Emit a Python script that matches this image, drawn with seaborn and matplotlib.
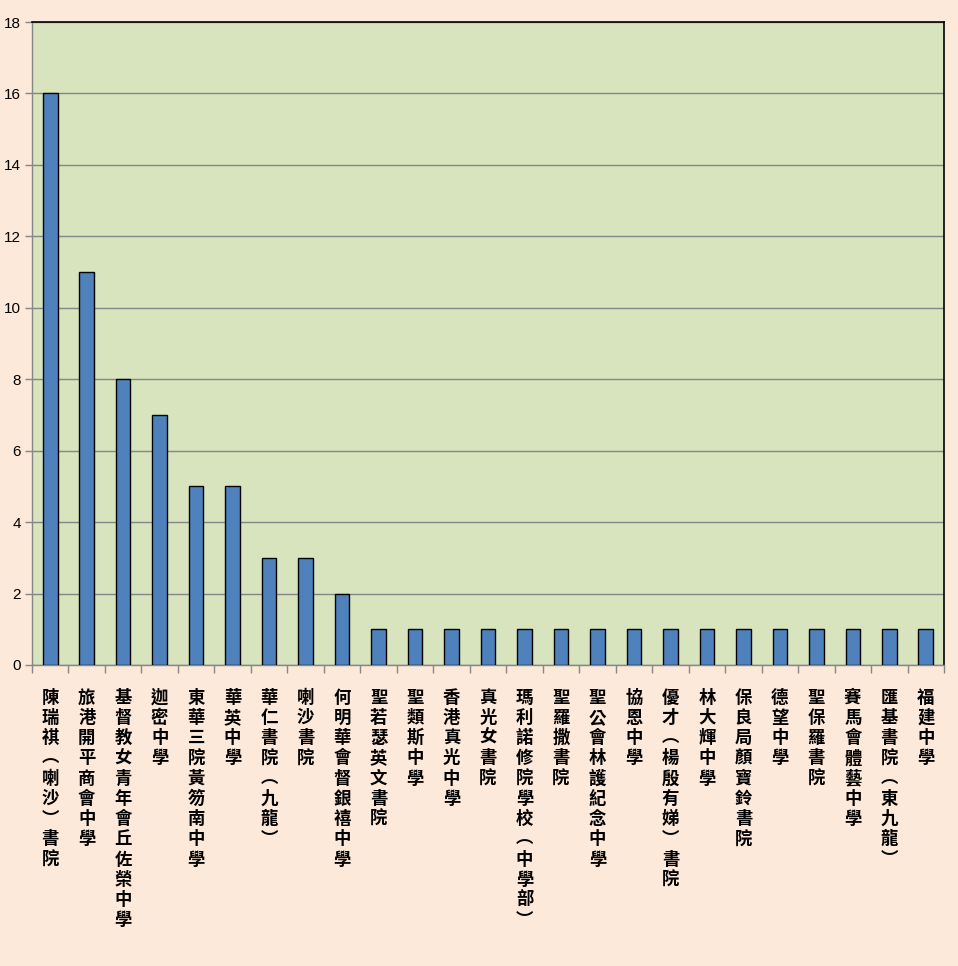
import matplotlib
matplotlib.use("Agg")
import matplotlib.pyplot as plt
import seaborn as sns
import pandas as pd
from matplotlib.ticker import FixedLocator

schools = [
    "陳瑞祺（喇沙）書院", "旅港開平商會中學", "基督教女青年會丘佐榮中學", "迦密中學",
    "東華三院黃笏南中學", "華英中學", "華仁書院（九龍）", "喇沙書院",
    "何明華會督銀禧中學", "聖若瑟英文書院", "聖類斯中學", "香港真光中學",
    "真光女書院", "瑪利諾修院學校(中學部)", "聖羅撒書院", "聖公會林護紀念中學",
    "協恩中學", "優才(楊殷有娣)書院", "林大輝中學", "保良局顏寶鈴書院",
    "德望中學", "聖保羅書院", "賽馬會體藝中學", "匯基書院(東九龍)", "福建中學",
]
counts = [16, 11, 8, 7, 5, 5, 3, 3, 2, 1, 1, 1, 1, 1, 1, 1, 1, 1, 1, 1, 1, 1, 1, 1, 1]
y_ticks = [0, 2, 4, 6, 8, 10, 12, 14, 16, 18]

sns.set_theme(style="white")
plt.rcParams['font.family'] = ['Noto Sans CJK TC', 'DejaVu Sans']

df = pd.DataFrame({"school": schools, "count": counts})

fig = plt.figure(figsize=(9.58, 9.66), dpi=100, facecolor="#FDE9D9")
ax = fig.add_axes([32/958, 1-665/966, (944-32)/958, (665-22)/966])
ax.set_facecolor("#D7E4BD")

sns.barplot(data=df, x="school", y="count", color="#4F81BD", edgecolor="black",
            linewidth=1.0, width=0.4, saturation=1, ax=ax, zorder=3)

ax.set_ylim(0, 18)
ax.set_xlim(-0.5, len(schools) - 0.5)
ax.yaxis.set_major_locator(FixedLocator(y_ticks))
ax.grid(axis="y", color="#868686", linewidth=1.0, zorder=0)
ax.set_axisbelow(True)
ax.set_xlabel("")
ax.set_ylabel("")

def vert(s):
    s = s.replace("（", "︵").replace("）", "︶").replace("(", "︵").replace(")", "︶")
    return "\n".join(list(s))

ax.set_xticks(range(len(schools)))
ax.set_xticklabels([vert(s) for s in schools], rotation=0, ha="center", va="top",
                   fontsize=12.5, linespacing=1.16, fontweight="bold", color="black")
ax.tick_params(axis="x", which="major", length=0, pad=17, labelcolor="black")
ax.xaxis.set_minor_locator(FixedLocator([i + 0.5 for i in range(-1, len(schools))]))
ax.tick_params(axis="x", which="minor", length=6, color="#868686", width=1, bottom=True)
ax.tick_params(axis="y", which="major", length=5, color="#868686", width=1, left=True,
               labelsize=11, pad=3, labelcolor="black")
for lbl in ax.get_yticklabels():
    lbl.set_family(["Liberation Sans", "DejaVu Sans"])

for side in ["left", "bottom"]:
    ax.spines[side].set_color("#868686")
    ax.spines[side].set_linewidth(1.0)
for side in ["top", "right"]:
    ax.spines[side].set_color("black")
    ax.spines[side].set_linewidth(1.2)

fig.savefig("out.png", dpi=100, facecolor=fig.get_facecolor())
